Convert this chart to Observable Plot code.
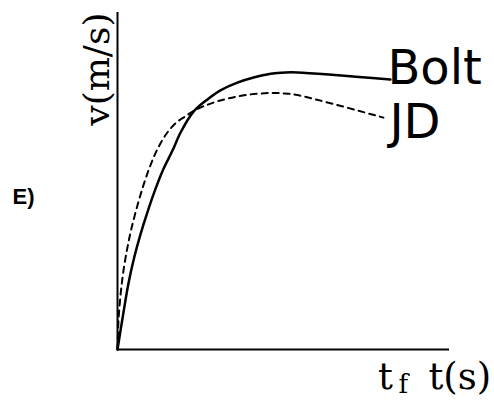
<!DOCTYPE html>
<html>
<head>
<meta charset="utf-8">
<script src="https://cdn.jsdelivr.net/npm/d3@7"></script>
<script src="https://cdn.jsdelivr.net/npm/@observablehq/plot@0.6"></script>
<style>
  html, body { margin: 0; padding: 0; background: #fff; }
  svg { display: block; }
</style>
</head>
<body>
<div id="chart"></div>
<script>
// Series values (time and speed in arbitrary units, 0–100 of the axis length)
const boltT = [0, 1.5, 3.3, 5.1, 6.9, 9.0, 11.5, 13.9, 16.6, 19.0, 22.9, 27.1, 31.0, 36.1, 41.0, 46.1, 50.6, 54.2, 82.2];
const boltV = [0, 9.2, 19.6, 27.6, 34.1, 40.7, 47.8, 53.7, 59.1, 64.4, 70.6, 74.2, 76.9, 79.2, 80.7, 81.8, 82.2, 82.2, 80.1];
const jdT = [0, 0.3, 0.9, 1.8, 3.0, 4.2, 6.0, 7.8, 9.9, 12.1, 14.8, 17.8, 20.8, 22.9, 26.5, 31.0, 36.1, 41.0, 46.1, 50.0, 54.2, 80.1];
const jdV = [0, 8.6, 16.0, 23.4, 30.3, 35.9, 42.7, 48.7, 54.6, 59.6, 64.1, 67.4, 69.4, 70.8, 72.4, 73.9, 75.1, 75.8, 76.1, 76.0, 75.5, 68.8];

const seriesNames = ["Bolt", "JD"];
const yAxisLabel = "v(m/s)";
const xAxisLabel = "t(s)";
const tickT = [80.7];
const tickMain = ["t"];
const tickSub = ["f"];
const panelLabel = "E)";
const yLabelT = [-6]; // where the rotated v label sits, in axis units left of the origin

const bolt = boltT.map((t, i) => ({t, v: boltV[i]}));
const jd = jdT.map((t, i) => ({t, v: jdV[i]}));

const chart = Plot.plot({
  width: 494,
  height: 400,
  marginLeft: 117,
  marginRight: 45,
  marginTop: 12,
  marginBottom: 51,
  x: {domain: [0, 100], axis: null},
  y: {domain: [0, 100], axis: null},
  style: {background: "#fff", color: "#000", overflow: "visible"},
  marks: [
    Plot.ruleX([0], {y1: 0, y2: 100, stroke: "#000", strokeWidth: 2}),
    Plot.ruleY([0], {x1: 0, x2: 100, stroke: "#000", strokeWidth: 2}),
    Plot.line(jd, {x: "t", y: "v", curve: "catmull-rom", stroke: "#000", strokeWidth: 2, strokeDasharray: "6,5"}),
    Plot.line(bolt, {x: "t", y: "v", curve: "catmull-rom", stroke: "#000", strokeWidth: 2.5}),
    Plot.text([bolt[bolt.length - 1]], {x: "t", y: "v", text: () => seriesNames[0], textAnchor: "start", lineAnchor: "middle", dx: -3, dy: -11, fontFamily: "DejaVu Sans", fontSize: 48, fill: "#000"}),
    Plot.text([jd[jd.length - 1]], {x: "t", y: "v", text: () => seriesNames[1], textAnchor: "start", lineAnchor: "middle", dx: 6, dy: 5, fontFamily: "DejaVu Sans", fontSize: 48, fill: "#000"}),
    Plot.text(yLabelT, {x: d => d, y: () => 100, text: () => yAxisLabel, rotate: -90, textAnchor: "end", lineAnchor: "middle", fontFamily: "DejaVu Serif", fontSize: 36, fill: "#000", clip: false}),
    Plot.text([xAxisLabel], {frameAnchor: "bottom-right", textAnchor: "start", lineAnchor: "middle", dx: -21, dy: 28, fontFamily: "DejaVu Serif", fontSize: 37, fill: "#000"}),
    Plot.text(tickT, {x: d => d, frameAnchor: "bottom", text: (d, i) => tickMain[i], textAnchor: "middle", lineAnchor: "middle", dy: 28, fontFamily: "DejaVu Serif", fontSize: 37, fill: "#000"}),
    Plot.text(tickT, {x: d => d, frameAnchor: "bottom", text: (d, i) => tickSub[i], textAnchor: "middle", lineAnchor: "middle", dx: 18, dy: 35.2, fontFamily: "DejaVu Serif", fontSize: 26, fill: "#000"}),
    Plot.text([panelLabel], {frameAnchor: "left", textAnchor: "start", lineAnchor: "middle", dx: -105, dy: 15.5, fontFamily: "Liberation Sans", fontWeight: "bold", fontSize: 22, fill: "#000"})
  ]
});
document.getElementById("chart").appendChild(chart);
</script>
</body>
</html>
